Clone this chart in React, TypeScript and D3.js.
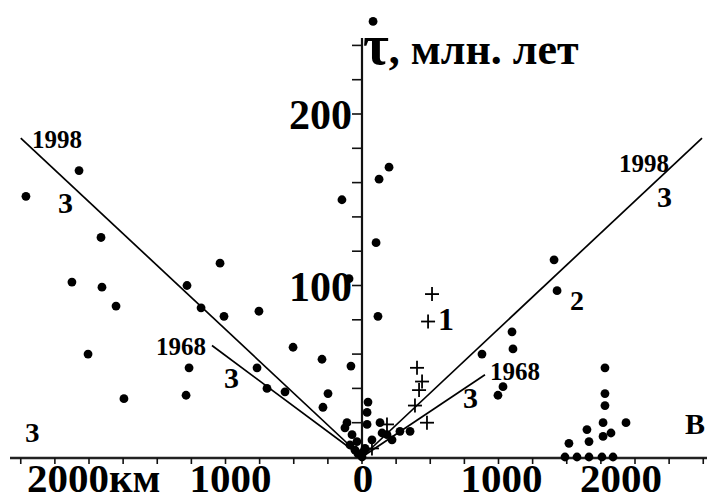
import React from "react";
import * as d3 from "d3";

// ---- Data (distance km: negative = west, positive = east; age in Ma) ----
const circleX = [
  -2073, -2462, -1912, -147, 81, 198, 125, 103, -95, 117, -81,
  -2125, -1905, -1802, -2007, -1744, -1282, -1040, -1179, -1011, -755,
  -1267, -1289, -769, -696, -564, -505, -293, -249, -286, -110, -73, -37,
  44, 37, 37, 132, 147, 220, 278, 352, 183, 0,
  -51, 22, -125, 73, -88, -30, 10,
  1407, 1429, 1099, 1106, 879, 1033, 996,
  1780, 1780, 1780, 1766, 1934, 1766, 1824, 1648, 1663, 1516,
  1487, 1575, 1663, 1758, 1839,
];
const circleY = [
  167, 152, 128, 150, 254, 169, 162, 125, 104, 82, 53,
  102, 99, 88, 60, 34, 100, 113, 87, 82, 85,
  52, 36, 52, 40, 38, 64, 57, 37, 29, 20, 13, 9,
  32, 26, 19, 20, 14, 10, 15, 15, 13, 0,
  4, 5, 17, 10, 7, 2, 3,
  115, 97, 73, 63, 60, 41, 36,
  52, 37, 30, 20, 20, 12, 14, 16, 9, 8,
  0, 0, 0, 0, 0,
];
const crossX = [513, 484, 403, 440, 418, 388, 476, 183, 73];
const crossY = [95, 79, 52, 44, 39, 30, 20, 19, 5];

// regression lines: [x, y] endpoints from origin
const lineEndX = [-2500, -1099, 2491, 901];
const lineEndY = [186, 65, 186, 48];

const xTickValues = d3.range(-2500, 2501, 250);
const xLabelValues = [-2000, -1000, 0, 1000, 2000];
const xLabelTexts = ["2000км", "1000", "0", "1000", "2000"];
const yTickValues = d3.range(20, 241, 20);
const yLabelValues = [100, 200];
const yLabelTexts = ["100", "200"];

const annoTexts = ["1998", "3", "1968", "3", "1998", "3", "2", "1", "1968", "3", "З", "В"];
const annoX = [-2418, -2227, -1509, -1011, 1883, 2161, 1524, 557, 938, 740, -2469, 2366];
const annoY = [180, 142, 59.5, 40, 166, 146, 86, 74, 45, 28.6, 8.7, 13.4];
const annoSize = [25, 30, 25, 30, 25, 30, 28, 32, 25, 30, 27, 30];

const titleSymbol = "τ";
const titleRest = ", млн.  лет";

// ---- Styles ----
const W = 707;
const H = 502;
const FONT = "'Liberation Serif', 'DejaVu Serif', serif";
const xLabelDx = [-62, 5, 1, 3, -14];

export default function App() {
  const x = d3.scaleLinear().domain([0, 1000]).range([362, 498.5]);
  const y = d3.scaleLinear().domain([0, 100]).range([457, 285.5]);
  const line = d3
    .line<[number, number]>()
    .x((d) => x(d[0]))
    .y((d) => y(d[1]));

  return (
    <svg
      width={W}
      height={H}
      style={{ position: "absolute", left: 0, top: 0, background: "#fff" }}
      fontFamily={FONT}
    >
      <rect width={W} height={H} fill="#fff" />
      {/* x axis */}
      <line x1={10} x2={W} y1={y(0) + 1} y2={y(0) + 1} stroke="#222" strokeWidth={2.5} />
      {xTickValues.map((v) => (
        <line key={"xt" + v} x1={x(v)} x2={x(v)} y1={y(0) + 1} y2={y(0) + 7} stroke="#111" strokeWidth={1.6} />
      ))}
      {xLabelValues.map((v, i) => (
        <text
          key={"xl" + i}
          x={x(v) + xLabelDx[i]}
          y={492}
          textAnchor={i === 0 ? "start" : "middle"}
          fontSize={41}
          fontWeight="bold"
          fill="#000"
        >
          {xLabelTexts[i]}
        </text>
      ))}
      {/* y axis */}
      <line x1={x(0)} x2={x(0)} y1={y(0) + 2} y2={38} stroke="#111" strokeWidth={2.2} />
      {yTickValues.map((v) => (
        <line key={"yt" + v} x1={x(0) - 10} x2={x(0)} y1={y(v)} y2={y(v)} stroke="#111" strokeWidth={1.6} />
      ))}
      {yLabelValues.map((v, i) => (
        <text
          key={"yl" + i}
          x={x(0) - 10}
          y={y(v) + 15}
          textAnchor="end"
          fontSize={42}
          fontWeight="bold"
          fill="#000"
        >
          {yLabelTexts[i]}
        </text>
      ))}
      <text x={x(0) + 1} y={64} fontSize={44} fontWeight="bold" fill="#000">
        <tspan fontSize={56}>{titleSymbol}</tspan>
        <tspan>{titleRest}</tspan>
      </text>
      {/* regression lines */}
      {lineEndX.map((ex, i) => (
        <path
          key={"ln" + i}
          d={line([
            [0, 0],
            [ex, lineEndY[i]],
          ]) as string}
          stroke="#000"
          strokeWidth={1.7}
          fill="none"
        />
      ))}
      {/* circles */}
      {circleX.map((cx, i) => (
        <circle key={"c" + i} cx={x(cx)} cy={y(circleY[i])} r={4.4} fill="#000" />
      ))}
      {/* crosses */}
      {crossX.map((cx, i) => {
        const px = x(cx);
        const py = y(crossY[i]);
        return (
          <g key={"x" + i} stroke="#000" strokeWidth={1.8}>
            <line x1={px - 7} x2={px + 7} y1={py} y2={py} />
            <line x1={px} x2={px} y1={py - 7} y2={py + 7} />
          </g>
        );
      })}
      {/* annotations */}
      {annoTexts.map((t, i) => (
        <text
          key={"a" + i}
          x={x(annoX[i])}
          y={y(annoY[i])}
          fontSize={annoSize[i]}
          fontWeight="bold"
          fill="#000"
        >
          {t}
        </text>
      ))}
    </svg>
  );
}
